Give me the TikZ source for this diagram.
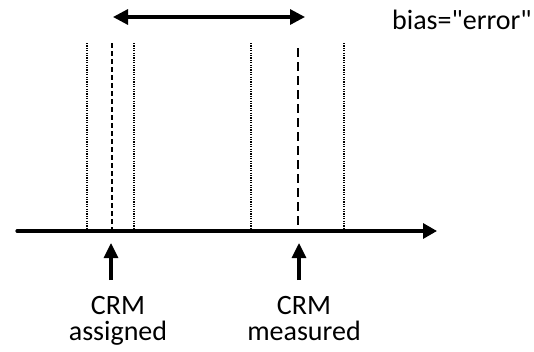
\documentclass[tikz,border=0pt]{standalone}
\usepackage{fontspec}
\setmainfont{Carlito}
\usetikzlibrary{arrows.meta}
\begin{document}
\begin{tikzpicture}[x=1pt,y=-1pt,
  axisline/.style={line width=3.2pt, line cap=round, -{Triangle[length=14pt,width=15pt]}},
  spanarrow/.style={line width=3.2pt, {Triangle[length=15pt,width=15pt]}-{Triangle[length=15pt,width=15pt]}},
  uparrow/.style={line width=3.2pt, -{Triangle[length=15pt,width=14pt]}},
  dotline/.style={line width=1.6pt, dash pattern=on 1.2pt off 1.2pt},
  shortdash/.style={line width=2.2pt, dash pattern=on 5pt off 3pt},
  longdash/.style={line width=2.2pt, dash pattern=on 9pt off 5pt},
  lbl/.style={font=\fontsize{28}{26}\selectfont, align=center, inner sep=0pt, anchor=north},
]
\useasboundingbox (0,0) rectangle (534,351);
% axis
\coordinate (ax0) at (17,231);
\coordinate (ax1) at (437,231);
\draw[axisline] (ax0) -- (ax1);
% vertical lines
\coordinate (d1t) at (87,43);  \coordinate (d1b) at (87,231);
\coordinate (c1t) at (112,43); \coordinate (c1b) at (112,231);
\coordinate (d2t) at (134,43); \coordinate (d2b) at (134,231);
\coordinate (d3t) at (251,43); \coordinate (d3b) at (251,231);
\coordinate (c2t) at (298,48); \coordinate (c2b) at (298,231);
\coordinate (d4t) at (344,43); \coordinate (d4b) at (344,231);
\draw[dotline] (d1t) -- (d1b);
\draw[dotline] (d2t) -- (d2b);
\draw[dotline] (d3t) -- (d3b);
\draw[dotline] (d4t) -- (d4b);
\draw[shortdash] (c1t) -- (c1b);
\draw[longdash] (c2t) -- (c2b);
% span arrow
\coordinate (s0) at (113,17);
\coordinate (s1) at (305,17);
\draw[spanarrow] (s0) -- (s1);
% bias label
\node[font=\fontsize{28}{30}\selectfont, inner sep=0pt, anchor=base west] (bias) at (392,29) {bias=\textquotedbl error\textquotedbl};
% labels
\node[lbl] (assigned) at (118,296) {CRM\\assigned};
\node[lbl] (measured) at (304,296) {CRM\\measured};
% up arrows
\coordinate (u1t) at (111,243);
\coordinate (u1b) at (111,280);
\coordinate (u2t) at (299,243);
\coordinate (u2b) at (299,280);
\draw[uparrow] (u1b) -- (u1t);
\draw[uparrow] (u2b) -- (u2t);
\end{tikzpicture}
\end{document}
